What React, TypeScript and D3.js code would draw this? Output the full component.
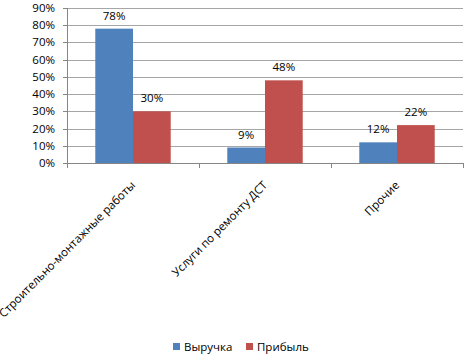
import { useMemo } from 'react';
import * as d3 from 'd3';

// chart data
const categories = ['Строительно-монтажные работы', 'Услуги по ремонту ДСТ', 'Прочие'];
const seriesNames = ['Выручка', 'Прибыль'];
const revenue = [78, 9, 12];
const profit = [30, 48, 22];
const yTicks = [0, 10, 20, 30, 40, 50, 60, 70, 80, 90];

const colors = ['#4F81BD', '#C0504D'];
const font = '"Open Sans", "DejaVu Sans", sans-serif';

const W = 471;
const H = 362;
const margin = { left: 67, right: 8, top: 8, bottom: 199 };

export default function App() {
	const series = [revenue, profit];

	const x = useMemo(
		() =>
			d3
				.scaleBand<string>()
				.domain(categories)
				.range([margin.left, W - margin.right])
				.paddingInner(0)
				.paddingOuter(0),
		[]
	);
	const y = useMemo(
		() => d3.scaleLinear().domain([0, 90]).range([H - margin.bottom, margin.top]),
		[]
	);

	// two touching bars per group, empty space split on both sides
	const inner = useMemo(
		() => d3.scaleBand<number>().domain([0, 1]).range([0, x.bandwidth()]).paddingOuter(0.75),
		[x]
	);

	const x0 = margin.left;
	const x1 = W - margin.right;
	const y0 = y(0);

	return (
		<div style={{ position: 'absolute', left: 0, top: 0 }}>
			<svg width={W} height={H} style={{ display: 'block', background: '#fff' }}>
				{/* gridlines */}
				{yTicks.map((t) => (
					<line
						key={'g' + t}
						x1={x0}
						x2={x1}
						y1={Math.round(y(t)) + 0.5}
						y2={Math.round(y(t)) + 0.5}
						stroke="#a6a6a6"
						strokeWidth={1}
					/>
				))}
				{/* y axis */}
				<line x1={x0 + 0.5} x2={x0 + 0.5} y1={y(90)} y2={y0} stroke="#868686" />
				{yTicks.map((t) => (
					<g key={'t' + t}>
						<line
							x1={x0 - 4}
							x2={x0}
							y1={Math.round(y(t)) + 0.5}
							y2={Math.round(y(t)) + 0.5}
							stroke="#868686"
						/>
						<text
							x={x0 - 12}
							y={y(t)}
							dy="0.35em"
							textAnchor="end"
							fontFamily={font}
							fontSize={11.5}
							fill="#000"
						>
							{t}%
						</text>
					</g>
				))}
				{/* x axis */}
				<line x1={x0} x2={x1} y1={Math.round(y0) + 0.5} y2={Math.round(y0) + 0.5} stroke="#868686" />
				{[...categories.map((c) => x(c) as number), x1].map((px, i) => (
					<line
						key={'xt' + i}
						x1={Math.round(px) + 0.5}
						x2={Math.round(px) + 0.5}
						y1={y0}
						y2={y0 + 5}
						stroke="#868686"
					/>
				))}
				{/* bars */}
				{categories.map((c, ci) =>
					series.map((vals, si) => {
						const bx = (x(c) as number) + (inner(si) as number);
						const by = y(vals[ci]);
						return (
							<g key={c + si}>
								<rect
									x={bx}
									y={by}
									width={inner.bandwidth()}
									height={y0 - by}
									fill={colors[si]}
								/>
								<text
									x={bx + inner.bandwidth() / 2}
									y={by - 9}
									textAnchor="middle"
									fontFamily={font}
									fontSize={11.5}
									fill="#000"
								>
									{vals[ci]}%
								</text>
							</g>
						);
					})
				)}
				{/* category labels */}
				{categories.map((c) => {
					const cx = (x(c) as number) + x.bandwidth() / 2 + 3;
					const cy = y0 + 23;
					return (
						<text
							key={'l' + c}
							transform={`translate(${cx},${cy}) rotate(-45)`}
							textAnchor="end"
							fontFamily={font}
							fontSize={11.5}
							fill="#000"
						>
							{c}
						</text>
					);
				})}
				{/* legend */}
				{seriesNames.map((n, i) => {
					const lx = i === 0 ? 173 : 246;
					return (
						<g key={n}>
							<rect x={lx} y={343} width={7} height={7} fill={colors[i]} />
							<text x={lx + 11} y={347} dy="0.35em" fontFamily={font} fontSize={11.5} fill="#000">
								{n}
							</text>
						</g>
					);
				})}
			</svg>
		</div>
	);
}
